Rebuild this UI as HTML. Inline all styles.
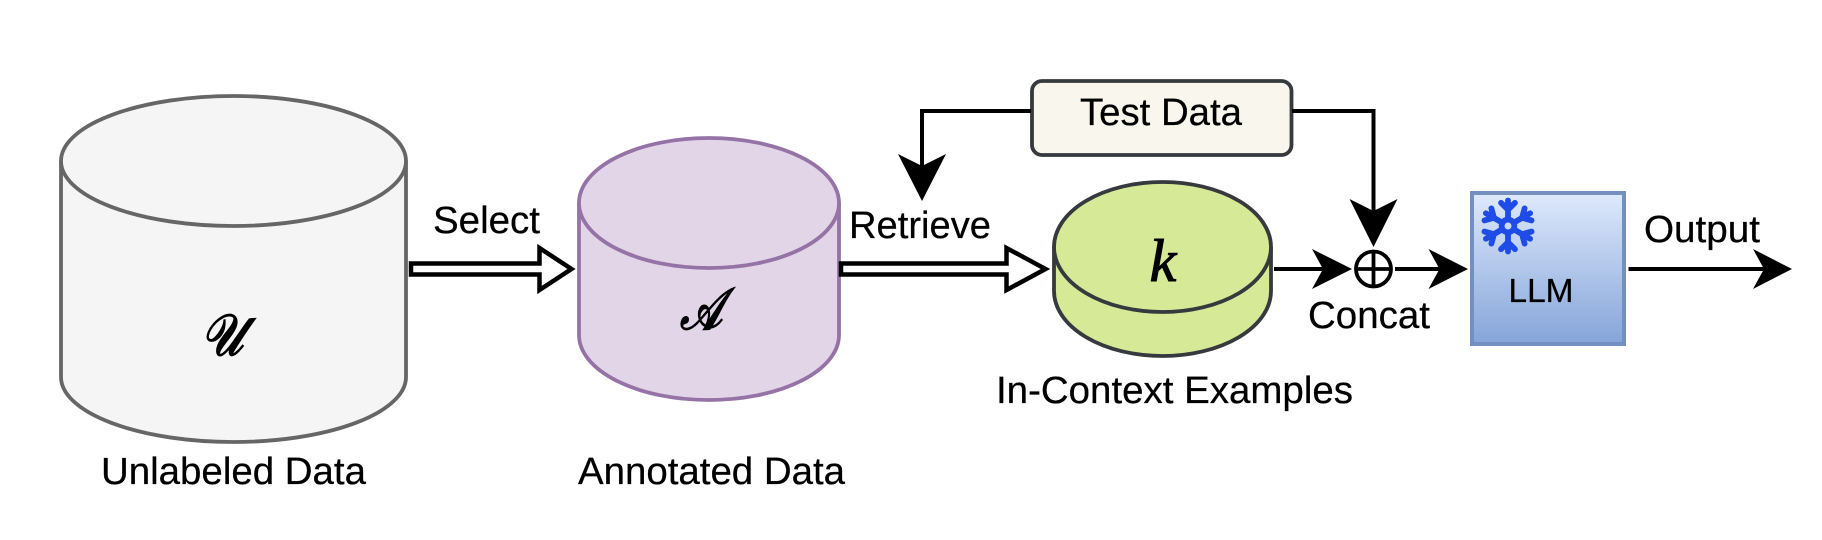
<!DOCTYPE html>
<html>
<head>
<meta charset="utf-8">
<style>
html,body{margin:0;padding:0;background:#fff;width:1822px;height:540px;overflow:hidden}
svg{display:block}
text{font-family:"Liberation Sans",sans-serif;fill:#000;font-size:38px;stroke:#000;stroke-width:0.25px}
</style>
</head>
<body>
<svg width="1822" height="540" viewBox="0 0 1822 540" xmlns="http://www.w3.org/2000/svg">
<defs>
<linearGradient id="g" x1="0" y1="0" x2="0" y2="1"><stop offset="0" stop-color="#dee9fc"/><stop offset="1" stop-color="#85a5d9"/></linearGradient>
</defs>
<rect width="1822" height="540" fill="#fff"/>

<!-- Cylinder U -->
<path d="M61,161 A172.5,65 0 0 1 406,161 V377 A172.5,65 0 0 1 61,377 Z" fill="#f5f5f5" stroke="#666" stroke-width="3.8"/>
<path d="M61,161 A172.5,65 0 0 0 406,161" fill="none" stroke="#666" stroke-width="3.8"/>
<text x="201" y="355" textLength="42" lengthAdjust="spacingAndGlyphs" style="font-family:'DejaVu Sans','Liberation Serif',serif;font-size:58px;font-style:italic;stroke-width:1.9px">𝒰</text>

<!-- Cylinder A -->
<path d="M579,203 A130,65 0 0 1 839,203 V335 A130,65 0 0 1 579,335 Z" fill="#e1d5e7" stroke="#9673a6" stroke-width="3.8"/>
<path d="M579,203 A130,65 0 0 0 839,203" fill="none" stroke="#9673a6" stroke-width="3.8"/>
<text x="680" y="329" textLength="42" lengthAdjust="spacingAndGlyphs" style="font-family:'DejaVu Sans','Liberation Serif',serif;font-size:58px;font-style:italic;stroke-width:1.9px">𝒜</text>

<!-- Cylinder k -->
<path d="M1054,247 A108.5,65 0 0 1 1271,247 V291 A108.5,65 0 0 1 1054,291 Z" fill="#d5e996" stroke="#36393d" stroke-width="3.8"/>
<path d="M1054,247 A108.5,65 0 0 0 1271,247" fill="none" stroke="#36393d" stroke-width="3.8"/>
<text x="1163" y="281" text-anchor="middle" style="font-family:'Liberation Serif',serif;font-size:60px;font-style:italic;stroke-width:1.1px">k</text>

<!-- Hollow arrows -->
<path d="M411,263.5 H539.5 V248 L571.5,269 L539.5,290 V274.5 H411 Z" fill="#fff" stroke="#000" stroke-width="4.5"/>
<path d="M841,263.5 H1006.5 V248 L1045.5,269 L1006.5,290 V274.5 H841 Z" fill="#fff" stroke="#000" stroke-width="4.5"/>

<!-- Test Data -->
<rect x="1032" y="81" width="259.5" height="74" rx="10" ry="10" fill="#f9f7ed" stroke="#36393d" stroke-width="3.8"/>
<text x="1161" y="125" text-anchor="middle" textLength="162" lengthAdjust="spacingAndGlyphs">Test Data</text>

<!-- Feedback connectors -->
<path d="M1031,111 H922 V170" fill="none" stroke="#000" stroke-width="4"/>
<path d="M922,201 L898,154 L922,166 L946,154 Z" fill="#000"/>
<path d="M1292,111 H1373.5 V215" fill="none" stroke="#000" stroke-width="4"/>
<path d="M1373.5,247 L1349.5,199 L1373.5,211 L1397.5,199 Z" fill="#000"/>

<!-- Concat circle -->
<circle cx="1373.5" cy="269" r="17.5" fill="#fff" stroke="#000" stroke-width="3.8"/>
<path d="M1356,269 H1391 M1373.5,251.5 V286.5" stroke="#000" stroke-width="3.8" fill="none"/>

<!-- Horizontal arrows -->
<path d="M1274,269 H1325" stroke="#000" stroke-width="4"/>
<path d="M1352,269 L1312,249 L1323,269 L1312,289 Z" fill="#000"/>
<path d="M1395,269 H1442" stroke="#000" stroke-width="4"/>
<path d="M1468,269 L1428.5,249 L1439.5,269 L1428.5,289 Z" fill="#000"/>
<path d="M1628.5,269 H1766" stroke="#000" stroke-width="4"/>
<path d="M1792,269 L1753,249 L1764,269 L1753,289 Z" fill="#000"/>

<!-- LLM box -->
<rect x="1472" y="193" width="152" height="151" fill="url(#g)" stroke="#7490c0" stroke-width="4"/>
<text x="1541" y="302" text-anchor="middle" textLength="65" lengthAdjust="spacingAndGlyphs" style="font-size:33.5px">LLM</text>

<!-- Snowflake -->
<g transform="translate(1508,226) scale(1.16)" stroke="#1f4be6" stroke-width="5" stroke-linecap="round" stroke-linejoin="round" fill="none">
<path d="M0,-7 V-22 M-6,-20 L0,-14 L6,-20"/>
<g transform="rotate(60)"><path d="M0,-7 V-22 M-6,-20 L0,-14 L6,-20"/></g>
<g transform="rotate(120)"><path d="M0,-7 V-22 M-6,-20 L0,-14 L6,-20"/></g>
<g transform="rotate(180)"><path d="M0,-7 V-22 M-6,-20 L0,-14 L6,-20"/></g>
<g transform="rotate(240)"><path d="M0,-7 V-22 M-6,-20 L0,-14 L6,-20"/></g>
<g transform="rotate(300)"><path d="M0,-7 V-22 M-6,-20 L0,-14 L6,-20"/></g>
<circle r="5.5" stroke-width="5"/>
</g>

<!-- Labels -->
<text x="433" y="233" textLength="107" lengthAdjust="spacingAndGlyphs">Select</text>
<text x="849" y="238" textLength="142" lengthAdjust="spacingAndGlyphs">Retrieve</text>
<text x="101" y="484" textLength="265" lengthAdjust="spacingAndGlyphs">Unlabeled Data</text>
<text x="578" y="484" textLength="267" lengthAdjust="spacingAndGlyphs">Annotated Data</text>
<text x="996" y="403" textLength="357" lengthAdjust="spacingAndGlyphs">In-Context Examples</text>
<text x="1308" y="328" textLength="122" lengthAdjust="spacingAndGlyphs">Concat</text>
<text x="1644" y="242" textLength="116" lengthAdjust="spacingAndGlyphs">Output</text>
</svg>
</body>
</html>
